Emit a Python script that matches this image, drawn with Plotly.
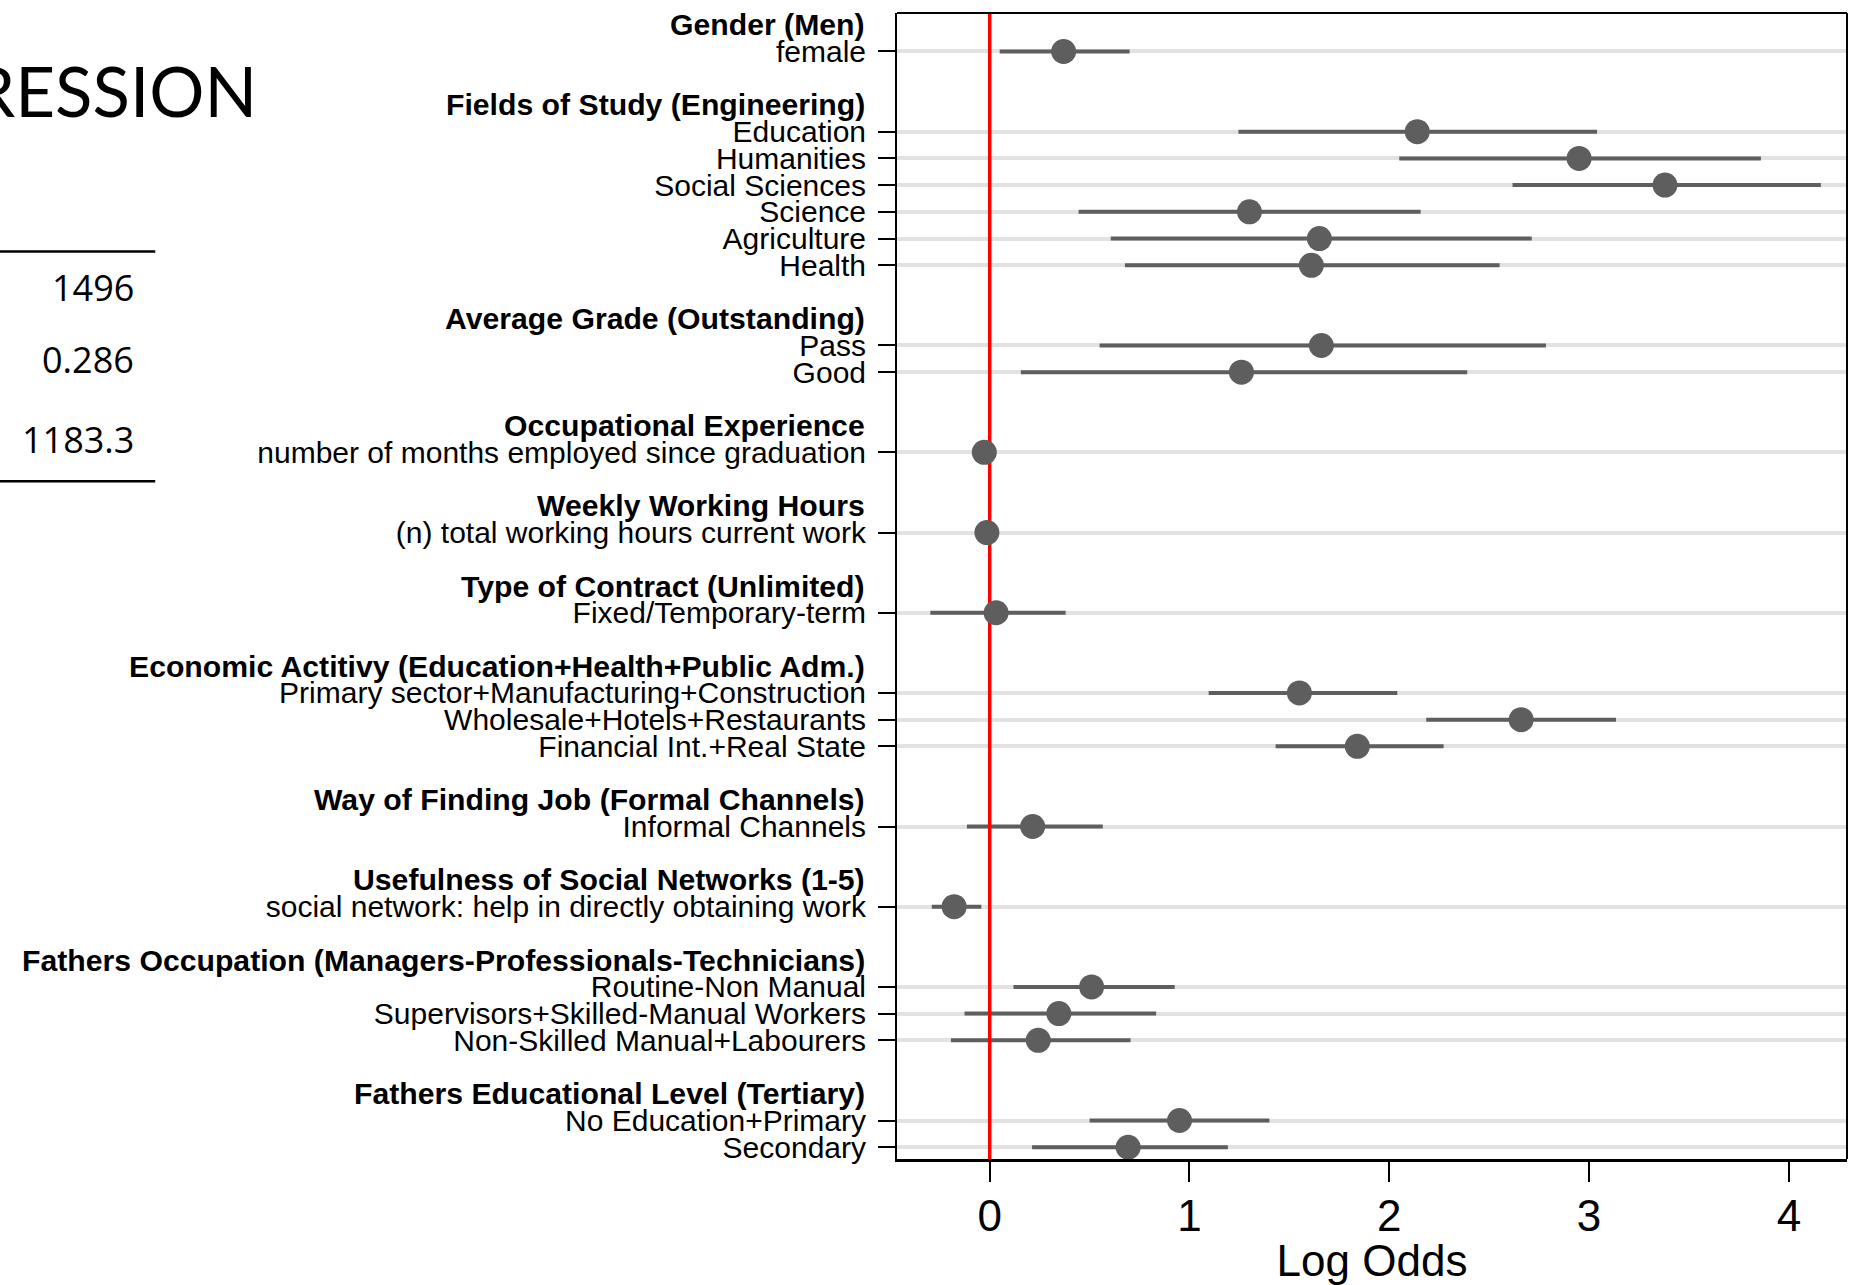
import plotly.graph_objects as go

# ---------------- data ----------------
group_headers = [
    "Gender (Men)",
    "Fields of Study (Engineering)",
    "Average Grade (Outstanding)",
    "Occupational Experience",
    "Weekly Working Hours",
    "Type of Contract (Unlimited)",
    "Economic Actitivy (Education+Health+Public Adm.)",
    "Way of Finding Job (Formal Channels)",
    "Usefulness of Social Networks (1-5)",
    "Fathers Occupation (Managers-Professionals-Technicians)",
    "Fathers Educational Level (Tertiary)",
]

item_labels = [
    "female",
    "Education", "Humanities", "Social Sciences", "Science", "Agriculture", "Health",
    "Pass", "Good",
    "number of months employed since graduation",
    "(n) total working hours current work",
    "Fixed/Temporary-term",
    "Primary sector+Manufacturing+Construction", "Wholesale+Hotels+Restaurants", "Financial Int.+Real State",
    "Informal Channels",
    "social network: help in directly obtaining work",
    "Routine-Non Manual", "Supervisors+Skilled-Manual Workers", "Non-Skilled Manual+Labourers",
    "No Education+Primary", "Secondary",
]
item_group = [0, 1, 1, 1, 1, 1, 1, 2, 2, 3, 4, 5, 6, 6, 6, 7, 8, 9, 9, 9, 10, 10]

estimate = [0.37, 2.14, 2.95, 3.38, 1.30, 1.65, 1.61, 1.66, 1.26, -0.027, -0.014, 0.032,
            1.55, 2.66, 1.84, 0.215, -0.178, 0.51, 0.346, 0.243, 0.95, 0.693]
ci_low = [0.05, 1.245, 2.05, 2.617, 0.445, 0.606, 0.677, 0.55, 0.156, -0.030, -0.017, -0.297,
          1.096, 2.185, 1.431, -0.114, -0.29, 0.119, -0.126, -0.194, 0.50, 0.212]
ci_high = [0.70, 3.04, 3.86, 4.16, 2.157, 2.713, 2.552, 2.784, 2.39, -0.024, -0.011, 0.38,
           2.04, 3.135, 2.272, 0.566, -0.042, 0.926, 0.833, 0.705, 1.40, 1.192]

x_ticks = [0, 1, 2, 3, 4]
x_title = "Log Odds"

slide_title = "RESSION"
stats_values = ["1496", "0.286", "1183.3"]

# ---------------- layout helpers ----------------
W, H = 1851, 1285
L, R, T, B = 897.3, 1846.7, 12.5, 1159.0


def px_x(p):
    return (p - L) / (R - L)


def px_y(p):
    return (B - p) / (B - T)


# row positions: header row, item rows, blank row between groups
header_pos = []
item_pos = []
row = 0
for g in range(len(group_headers)):
    if g > 0:
        row += 1  # blank row
    header_pos.append(row)
    row += 1
    for i, ig in enumerate(item_group):
        if ig == g:
            item_pos.append(row)
            row += 1
y_top = -0.44
y_bottom = item_pos[-1] + 0.44

FONT = "Liberation Sans, Arial, sans-serif"
DARK = "#5e5e5e"

fig = go.Figure()

# CI lines
ci_x, ci_y = [], []
for lo, hi, p in zip(ci_low, ci_high, item_pos):
    ci_x += [lo, hi, None]
    ci_y += [p, p, None]
fig.add_trace(go.Scatter(x=ci_x, y=ci_y, mode="lines",
                         line=dict(color=DARK, width=4), hoverinfo="skip", showlegend=False))

# reference line at zero
fig.add_trace(go.Scatter(x=[0, 0], y=[y_top, y_bottom], mode="lines",
                         line=dict(color="#ff0000", width=3.5), hoverinfo="skip", showlegend=False))

# point estimates
fig.add_trace(go.Scatter(x=estimate, y=item_pos, mode="markers",
                         marker=dict(color=DARK, size=25, line=dict(width=0)),
                         showlegend=False))

annotations = []
for text, p in zip(group_headers, header_pos):
    annotations.append(dict(text="<b>" + text + "</b>", x=0, xref="paper", y=p, yref="y",
                            xanchor="right", yanchor="middle", xshift=-30, showarrow=False,
                            font=dict(family=FONT, size=30.2, color="black")))

# slide fragments
annotations.append(dict(text=slide_title, x=px_x(260), xref="paper", y=px_y(90), yref="paper",
                        xanchor="right", yanchor="middle", showarrow=False,
                        font=dict(family="Lato, Open Sans, sans-serif", size=69, color="black")))
for val, yc in zip(stats_values, [287, 359, 439]):
    annotations.append(dict(text=val, x=px_x(137), xref="paper", y=px_y(yc), yref="paper",
                            xanchor="right", yanchor="middle", showarrow=False,
                            font=dict(family="Open Sans, sans-serif", size=36, color="black")))

shapes = [
    dict(type="line", xref="paper", yref="paper", x0=0, x1=1, y0=1, y1=1,
         line=dict(color="black", width=2)),
    dict(type="line", xref="paper", yref="paper", x0=1, x1=1, y0=0, y1=1,
         line=dict(color="black", width=2)),
    dict(type="line", xref="paper", yref="paper", x0=px_x(0), x1=px_x(156), y0=px_y(251), y1=px_y(251),
         line=dict(color="black", width=2.5)),
    dict(type="line", xref="paper", yref="paper", x0=px_x(0), x1=px_x(156), y0=px_y(481), y1=px_y(481),
         line=dict(color="black", width=2.5)),
]

fig.update_layout(
    width=W, height=H, autosize=False,
    margin=dict(l=L, r=W - R, t=T, b=H - B, pad=0, autoexpand=False),
    paper_bgcolor="white", plot_bgcolor="white",
    annotations=annotations, shapes=shapes,
    showlegend=False,
)
fig.update_xaxes(
    range=[-0.464, 4.291], tickvals=x_ticks, ticktext=[str(t) for t in x_ticks],
    ticks="outside", ticklen=20, tickwidth=2, tickcolor="black",
    showline=True, linewidth=3, linecolor="black", showgrid=False, zeroline=False,
    tickfont=dict(family=FONT, size=44, color="black"), ticklabelstandoff=-4,
    automargin=False,
    title=dict(text=x_title, font=dict(family=FONT, size=44, color="black"), standoff=12),
)
fig.update_yaxes(
    range=[y_bottom, y_top], tickvals=item_pos, ticktext=item_labels,
    ticks="outside", ticklen=17, tickwidth=2, tickcolor="black",
    showline=True, linewidth=2, linecolor="black",
    showgrid=True, gridcolor="#e2e2e2", gridwidth=3.5, zeroline=False,
    tickfont=dict(family=FONT, size=30, color="black"), ticklabelstandoff=6,
    automargin=False,
)

fig.write_html("out.html")
